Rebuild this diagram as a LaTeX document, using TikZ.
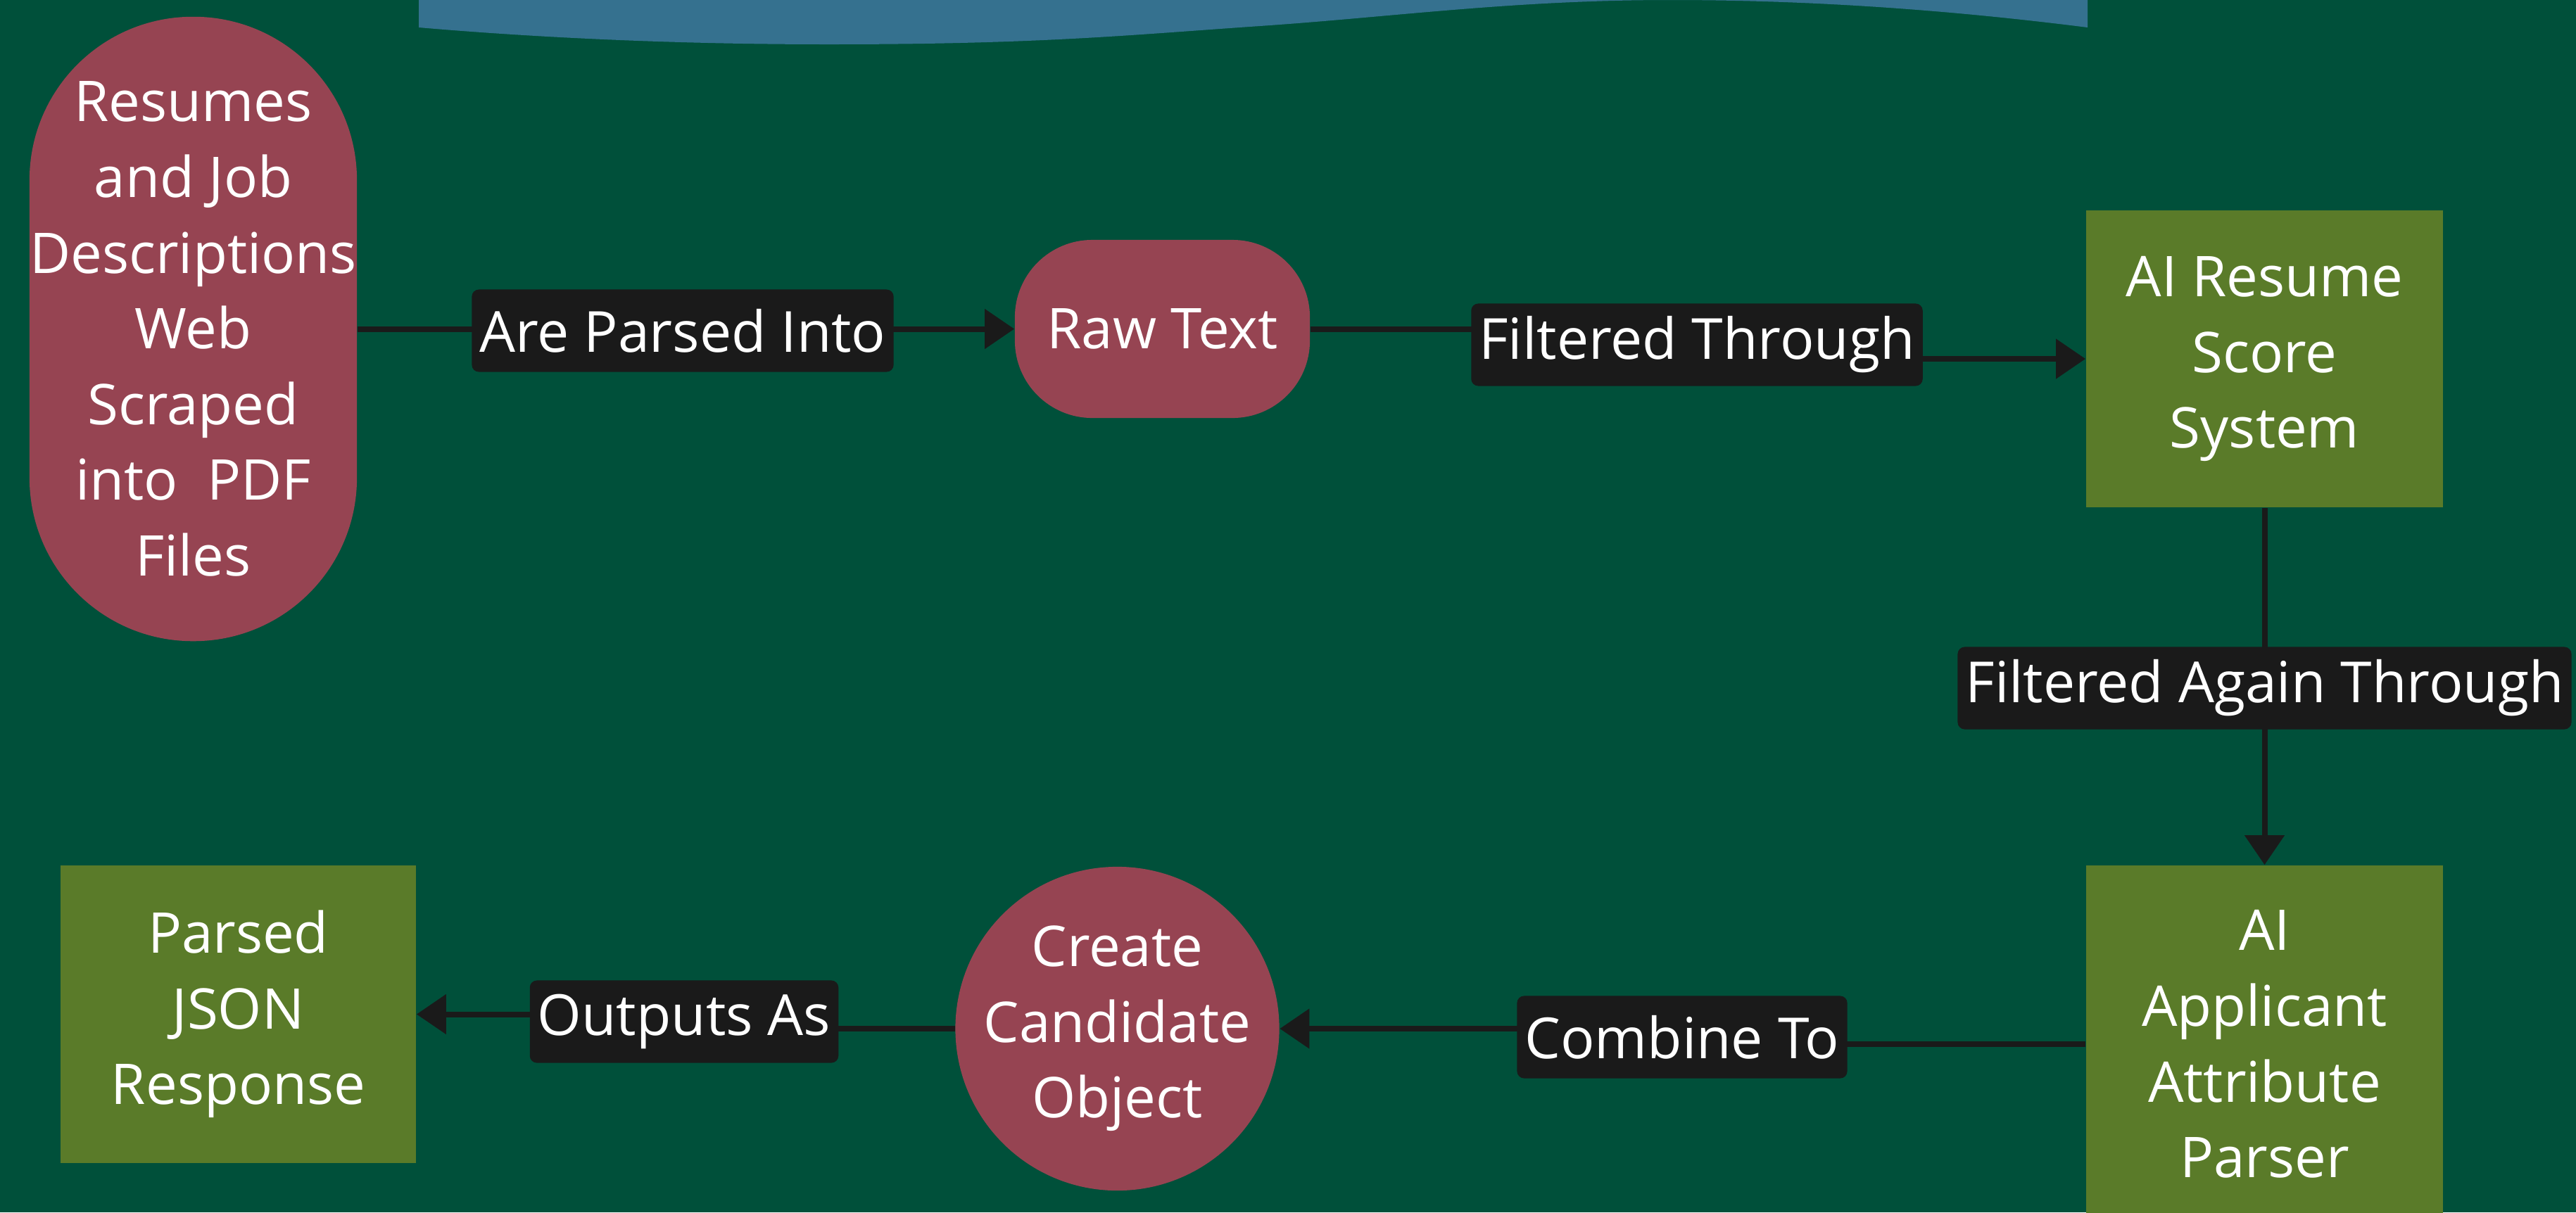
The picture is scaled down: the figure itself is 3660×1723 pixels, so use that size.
\documentclass[tikz,border=0pt]{standalone}
\usepackage{fontspec}
\setmainfont{Open Sans}
\usetikzlibrary{arrows.meta,backgrounds}
\definecolor{pageGreen}{HTML}{00503A}
\definecolor{bannerBlue}{HTML}{35718F}
\definecolor{blobRed}{HTML}{964452}
\definecolor{boxOlive}{HTML}{5A7B29}
\definecolor{tagBlack}{HTML}{1A1A1A}
\pgfdeclarelayer{edges}
\pgfsetlayers{background,edges,main}

\begin{document}
\begin{tikzpicture}[
  x=0.01cm, y=-0.01cm,
  >={Triangle[length=4.2mm,width=5.5mm]},
  item/.style={
    text=white,
    align=center,
    inner sep=0pt,
    font=\fontsize{22.7}{30.6}\selectfont
  },
  blob/.style={item, fill=blobRed},
  block/.style={item, fill=boxOlive, minimum width=5.07cm},
  tag/.style={
    fill=tagBlack,
    text=white,
    rounded corners=1mm,
    inner xsep=1.1mm,
    inner ysep=0pt,
    minimum height=1.17cm,
    font=\fontsize{22.9}{30.6}\selectfont
  },
  flow/.style={draw=tagBlack, line width=0.8mm}
]
\useasboundingbox (0,0) rectangle (3660,1723);
\clip (0,0) rectangle (3660,1723);

\begin{pgfonlayer}{background}
\fill[pageGreen] (0,0) rectangle (3660,1723);
\fill[bannerBlue] (595,0) -- (595,39)
  .. controls (780,55) and (980,63) .. (1177,63)
  .. controls (1480,63) and (1600,50) .. (1790,37)
  .. controls (1980,24) and (2150,0) .. (2373,0)
  .. controls (2600,0) and (2800,18) .. (2966,39)
  -- (2966,0) -- cycle;
\end{pgfonlayer}

% nodes
\node[blob, rounded corners=2.32cm, minimum width=4.65cm, minimum height=8.87cm] (src-docs) at (274.5,467.5)
  {Resumes\\and Job\\Descriptions\\Web\\Scraped\\into\ \ PDF\\Files};
\node[blob, rounded corners=1.1cm, minimum width=4.19cm, minimum height=2.53cm] (raw-text) at (1651.5,467.5) {Raw Text};
\node[block, minimum height=4.22cm] (score-sys) at (3217.5,510) {AI Resume\\Score\\System};
\node[block, minimum height=5.08cm] (attr-parser) at (3217.5,1484) {AI\\Applicant\\Attribute\\Parser};
\node[blob, circle, inner sep=-3mm, minimum size=4.6cm] (cand-obj) at (1587.5,1462) {Create\\Candidate\\Object};
\node[block, minimum width=5.05cm, minimum height=4.23cm] (json-resp) at (338.5,1441.5) {Parsed\\JSON\\Response};

% labels
\node[tag] (parsed-tag) at (970,470) {Are Parsed Into};
\node[tag] (filter-tag) at (2411,490) {Filtered Through};
\node[tag] (again-tag) at (3217.5,978) {Filtered Again Through};
\node[tag] (combine-tag) at (2390,1474) {Combine To};
\node[tag] (output-tag) at (972,1452) {Outputs As};

\begin{pgfonlayer}{edges}
\draw[flow, ->] (src-docs) -- (raw-text);
\draw[flow, ->] (raw-text.east) -| (filter-tag.center) |- (score-sys.west);
\draw[flow, ->] (score-sys) -- (attr-parser);
\draw[flow, ->] (attr-parser.west) -| (combine-tag.center) |- (cand-obj.east);
\draw[flow, ->] (cand-obj.west) -| (output-tag.center) |- (json-resp.east);
\end{pgfonlayer}

\end{tikzpicture}
\end{document}
